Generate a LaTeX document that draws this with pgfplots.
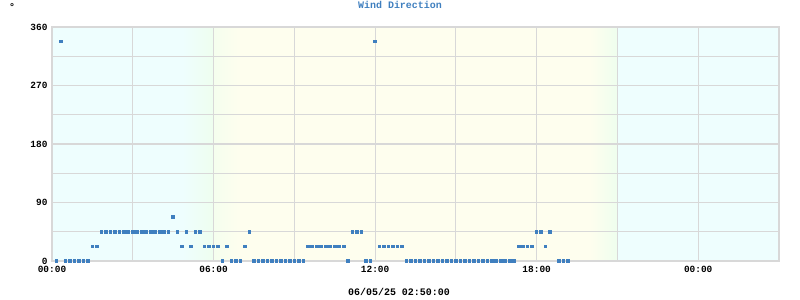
\documentclass[border=0pt]{standalone}
\usepackage{fontspec}
\setmainfont{Liberation Mono}
\usepackage{pgfplots}
\pgfplotsset{compat=1.18}
\definecolor{bgnight}{HTML}{EEFEFE}
\definecolor{bgtwi}{HTML}{EEFEEE}
\definecolor{bgday}{HTML}{FEFEEE}
\definecolor{gridc}{HTML}{D8D8D8}
\definecolor{ptc}{HTML}{3F7FBF}
\begin{document}
\begin{tikzpicture}
\begin{axis}[
  set layers,
  at={(52bp,39bp)}, anchor=south west,
  scale only axis, width=727bp, height=234bp,
  xmin=0, xmax=1620, ymin=0, ymax=360,
  xtick={0,360,720,1080,1440},
  xticklabels={00:00,06:00,12:00,18:00,00:00},
  minor xtick={180,540,900,1260},
  ytick={0,90,180,270,360},
  minor ytick={45,135,225,315},
  grid=both,
  grid style={gridc, line width=1.2bp},
  minor grid style={gridc, line width=1.2bp},
  axis line style={gridc, line width=1.2bp},
  tick style={draw=none},
  /pgf/number format/assume math mode=true,
  tick label style={font=\bfseries\fontsize{9.5}{10}\selectfont, black},
  xticklabel style={yshift=-2bp},
  yticklabel style={xshift=-1bp},
]
\begin{pgfonlayer}{axis background}
\fill[bgnight] (axis cs:0,0) rectangle (axis cs:290,360);
\shade[left color=bgnight, right color=bgtwi] (axis cs:290,0) rectangle (axis cs:361,360);
\shade[left color=bgtwi!60!bgday, right color=bgday] (axis cs:359,0) rectangle (axis cs:420,360);
\fill[bgday] (axis cs:419,0) rectangle (axis cs:1200,360);
\shade[left color=bgday, right color=bgtwi] (axis cs:1199,0) rectangle (axis cs:1261,360);
\fill[bgnight] (axis cs:1260,0) rectangle (axis cs:1620,360);
\end{pgfonlayer}
\addplot[only marks, color=ptc, mark=square*, mark size=1.3bp, mark options={solid, fill=ptc, draw=ptc, line width=0pt}] table {
x y
10 0
20 337.5
30 0
40 0
50 0
60 0
70 0
80 0
90 22.5
100 22.5
110 45
120 45
130 45
140 45
150 45
160 45
170 45
180 45
190 45
200 45
210 45
220 45
230 45
240 45
250 45
260 45
270 67.5
280 45
290 22.5
300 45
310 22.5
320 45
330 45
340 22.5
350 22.5
360 22.5
370 22.5
380 0
390 22.5
400 0
410 0
420 0
430 22.5
440 45
450 0
460 0
470 0
480 0
490 0
500 0
510 0
520 0
530 0
540 0
550 0
560 0
570 22.5
580 22.5
590 22.5
600 22.5
610 22.5
620 22.5
630 22.5
640 22.5
650 22.5
660 0
670 45
680 45
690 45
700 0
710 0
720 337.5
730 22.5
740 22.5
750 22.5
760 22.5
770 22.5
780 22.5
790 0
800 0
810 0
820 0
830 0
840 0
850 0
860 0
870 0
880 0
890 0
900 0
910 0
920 0
930 0
940 0
950 0
960 0
970 0
980 0
990 0
1000 0
1010 0
1020 0
1030 0
1040 22.5
1050 22.5
1060 22.5
1070 22.5
1080 45
1090 45
1100 22.5
1110 45
1130 0
1140 0
1150 0
};
\end{axis}
\node[anchor=base, inner sep=0pt, font=\bfseries\fontsize{10}{11}\selectfont, text=ptc] at (400bp,291bp) {Wind Direction};
\node[anchor=base, inner sep=0pt, font=\bfseries\fontsize{10}{11}\selectfont] at (12bp,289bp) {°};
\node[anchor=base, inner sep=0pt, font=\bfseries\fontsize{10}{11}\selectfont] at (399bp,5bp) {06/05/25 02:50:00};
\path (0,0) rectangle (800bp,300bp);
\end{tikzpicture}
\end{document}
